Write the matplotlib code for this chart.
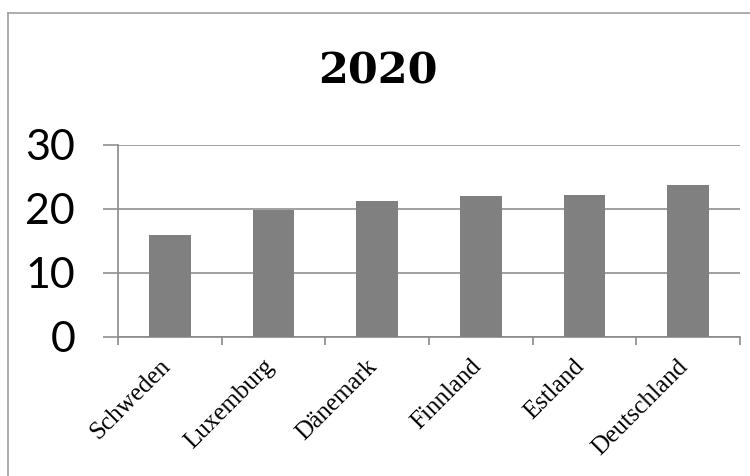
import matplotlib
matplotlib.use("Agg")
import matplotlib.pyplot as plt
from matplotlib.lines import Line2D
from matplotlib.transforms import ScaledTranslation
import numpy as np

categories = ["Schweden", "Luxemburg", "Dänemark", "Finnland", "Estland", "Deutschland"]
values = [16.0, 19.8, 21.2, 22.0, 22.2, 23.7]
yticks = [0, 10, 20, 30]
title = "2020"

W, H = 750, 476
fig = plt.figure(figsize=(W / 100, H / 100), dpi=100)
fig.patch.set_facecolor("white")

# outer chart border (left and top visible)
fig.add_artist(Line2D([7.5 / W, 7.5 / W], [0, 1 - 13 / H], transform=fig.transFigure,
                      color="#a0a0a0", lw=1.2))
fig.add_artist(Line2D([7.5 / W, 1], [1 - 13 / H, 1 - 13 / H], transform=fig.transFigure,
                      color="#a0a0a0", lw=1.2))

ax = fig.add_axes([118 / W, 1 - 337 / H, (740 - 118) / W, (337 - 145) / H])
x = np.arange(len(categories))
ax.bar(x, values, width=0.4, color="#808080", zorder=3)
ax.set_xlim(-0.5, len(categories) - 0.5)
ax.set_ylim(0, 30)
ax.set_yticks(yticks)
ax.set_yticklabels([str(v) for v in yticks], fontfamily="Lato", fontsize=31)
ax.yaxis.grid(True, color="#a0a0a0", lw=1.4, zorder=0)
ax.set_axisbelow(True)

for s in ["top", "right"]:
    ax.spines[s].set_visible(False)
for s in ["left", "bottom"]:
    ax.spines[s].set_color("#8a8a8a")
    ax.spines[s].set_linewidth(1.2)

ax.tick_params(axis="y", length=10.8, color="#a0a0a0", width=1.4, pad=20)
ax.set_xticks(np.arange(len(categories) + 1) - 0.5)
ax.set_xticklabels([])
ax.tick_params(axis="x", which="major", length=6, color="#8a8a8a", width=1.2)
ax.set_xticks(x, minor=True)
ax.set_xticklabels(categories, minor=True, rotation=45, ha="right",
                   rotation_mode="anchor", fontfamily="Liberation Serif", fontsize=18)
ax.tick_params(axis="x", which="minor", length=0, pad=13)
offset = ScaledTranslation(-11 / 100, 0, fig.dpi_scale_trans)
for lbl in ax.get_xticklabels(minor=True):
    lbl.set_transform(lbl.get_transform() + offset)

fig.text(378 / W, 1 - 71 / H, title, ha="center", va="center",
         fontfamily="DejaVu Serif", fontweight="bold", fontsize=31)

fig.savefig("out.png", dpi=100)
